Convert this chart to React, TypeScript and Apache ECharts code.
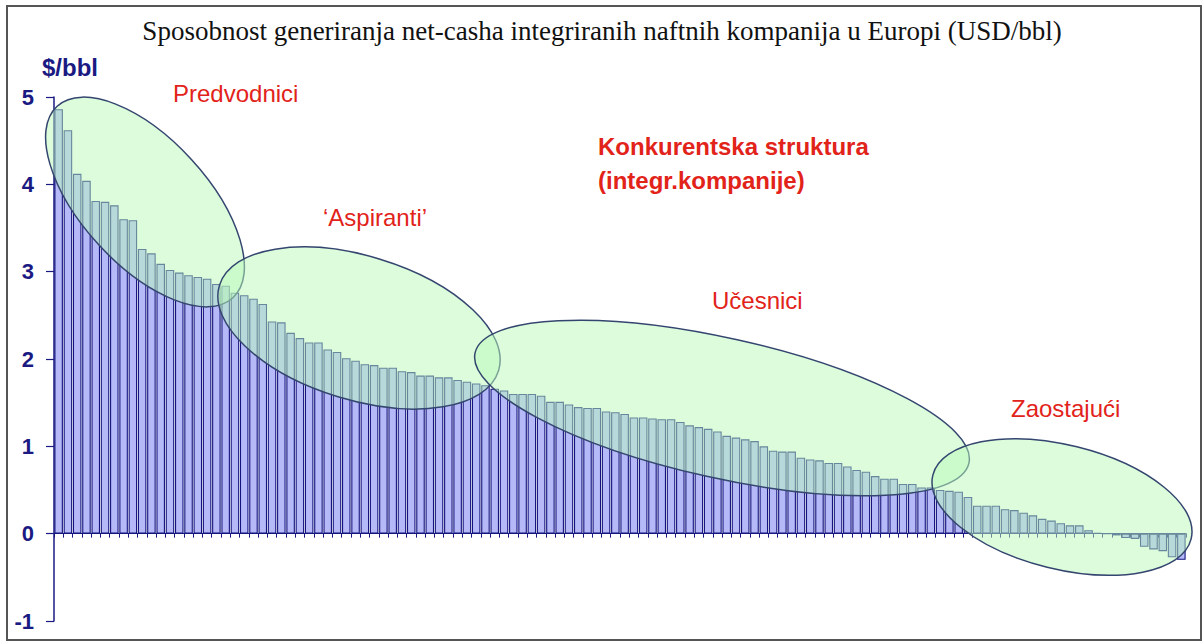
import React, { useEffect, useRef } from "react";
import * as echarts from "echarts";

const titleText = "Sposobnost generiranja net-casha integriranih naftnih kompanija u Europi (USD/bbl)";
const yAxisName = "$/bbl";
const yTicks = [-1, 0, 1, 2, 3, 4, 5];

const valuesLeaders = [4.86, 4.62, 4.12, 4.04, 3.81, 3.8, 3.76, 3.6, 3.59, 3.26, 3.21, 3.09, 3.02, 2.99, 2.96, 2.94, 2.92, 2.86, 2.84, 2.76, 2.73, 2.69, 2.63];
const valuesAspirants = [2.43, 2.42, 2.3, 2.24, 2.19, 2.19, 2.11, 2.08, 2.01, 1.98, 1.94, 1.93, 1.9, 1.9, 1.86, 1.85, 1.81, 1.81, 1.79, 1.79, 1.76, 1.74, 1.72, 1.7, 1.66, 1.64];
const valuesParticipants = [1.6, 1.6, 1.6, 1.58, 1.51, 1.51, 1.48, 1.45, 1.44, 1.44, 1.4, 1.39, 1.37, 1.33, 1.33, 1.32, 1.31, 1.31, 1.28, 1.24, 1.22, 1.2, 1.17, 1.12, 1.1, 1.08, 1.06, 1.0, 0.95, 0.94, 0.94, 0.87, 0.85, 0.84, 0.81, 0.81, 0.77, 0.73, 0.71, 0.66, 0.63, 0.63, 0.57, 0.57, 0.53, 0.53, 0.5, 0.49];
const valuesLaggards = [0.48, 0.42, 0.32, 0.32, 0.32, 0.28, 0.27, 0.24, 0.21, 0.17, 0.15, 0.12, 0.095, 0.095, 0.04, 0.01, 0.0, -0.02, -0.05, -0.06, -0.15, -0.18, -0.2, -0.27, -0.3];

const values = [...valuesLeaders, ...valuesAspirants, ...valuesParticipants, ...valuesLaggards];
const categories = values.map((_, i) => "K" + (i + 1));

const groupLabels = ["Predvodnici", "\u2018Aspiranti\u2019", "U\u010desnici", "Zaostaju\u0107i"];
const structureLabels = ["Konkurentska struktura", "(integr.kompanije)"];

const NAVY = "#1a1a82";
const RED = "#e2231a";
const SANS = '"Liberation Sans", Arial, sans-serif';

export default function App() {
  const ref = useRef<HTMLDivElement>(null);
  useEffect(() => {
    const chart = echarts.init(ref.current!, null, { renderer: "svg" });
    const deg = Math.PI / 180;
    const ellipse = (cx: number, cy: number, rx: number, ry: number, angDeg: number) => ({
      type: "ellipse",
      x: cx,
      y: cy,
      rotation: -angDeg * deg,
      shape: { cx: 0, cy: 0, rx, ry },
      style: { fill: "rgba(185,249,185,0.5)", stroke: "#34466f", lineWidth: 1.5 },
      z: 100,
    });
    const label = (text: string, x: number, y: number, bold = false) => ({
      type: "text",
      x,
      y,
      z: 110,
      style: {
        text,
        fill: RED,
        font: `${bold ? "bold " : ""}24px ${SANS}`,
        textAlign: "left",
        textVerticalAlign: "middle",
      },
    });
    chart.setOption({
      animation: false,
      backgroundColor: "#ffffff",
      title: {
        text: titleText,
        left: "center",
        top: 12,
        textStyle: {
          fontFamily: '"Liberation Serif", "Times New Roman", serif',
          fontWeight: "normal",
          fontSize: 27,
          color: "#111111",
        },
      },
      grid: { left: 54, right: 18, top: 97, bottom: 20, containLabel: false },
      xAxis: {
        type: "category",
        data: categories,
        axisLine: { onZero: true, lineStyle: { color: NAVY, width: 1.2 } },
        axisTick: { show: true, interval: 0, length: 4, lineStyle: { color: NAVY } },
        axisLabel: { show: false },
        splitLine: { show: false },
      },
      yAxis: {
        type: "value",
        min: -1,
        max: 5,
        interval: 1,
        name: yAxisName,
        nameLocation: "end",
        nameGap: 18,
        nameTextStyle: {
          color: NAVY,
          fontWeight: "bold",
          fontSize: 24,
          fontFamily: SANS,
          align: "center",
          padding: [0, 0, 0, 32],
        },
        axisLine: { show: true, lineStyle: { color: NAVY, width: 1.5 } },
        axisTick: { show: true, length: 8, lineStyle: { color: NAVY, width: 1.2 } },
        axisLabel: {
          color: NAVY,
          fontWeight: "bold",
          fontSize: 22,
          fontFamily: SANS,
          margin: 20,
          formatter: (v: number) => (yTicks.includes(v) ? String(v) : ""),
        },
        splitLine: { show: false },
      },
      series: [
        {
          type: "bar",
          data: values,
          barCategoryGap: "8%",
          itemStyle: { color: "#b5b9f8", borderColor: "#14147e", borderWidth: 1.1 },
          z: 2,
        },
      ],
      graphic: [
        {
          type: "rect",
          shape: { x: 7, y: 6, width: 1194, height: 634 },
          style: { fill: "none", stroke: "#555555", lineWidth: 2 },
          z: 120,
        },
        ellipse(145, 202, 130, 63, 47.5),
        ellipse(359, 328, 146, 72, 17),
        ellipse(722, 408, 253, 70, 12.6),
        ellipse(1062, 507, 133, 62, 13.9),
        label(groupLabels[0], 173, 93),
        label(groupLabels[1], 323, 217),
        label(groupLabels[2], 712, 300),
        label(groupLabels[3], 1011, 408),
        label(structureLabels[0], 598, 146, true),
        label(structureLabels[1], 598, 180, true),
      ],
    });
    return () => chart.dispose();
  }, []);
  return (
    <div
      ref={ref}
      style={{ position: "fixed", left: 0, top: 0, width: 1204, height: 641 }}
    />
  );
}
